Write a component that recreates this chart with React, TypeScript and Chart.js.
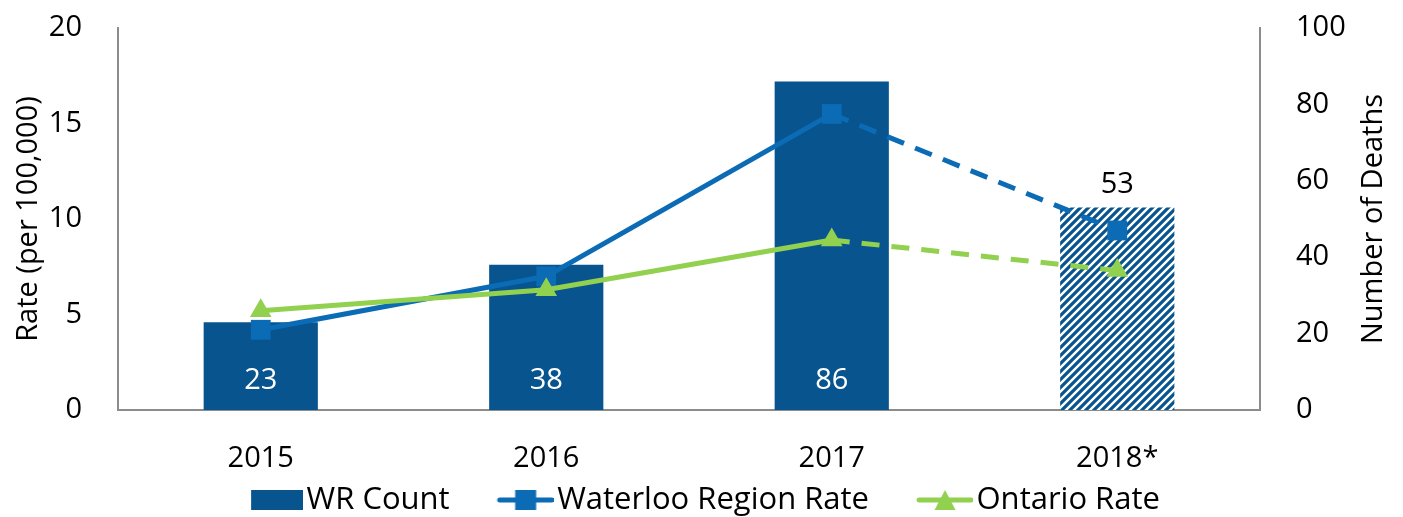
import React, { useEffect, useRef } from "react";
import { Chart, registerables } from "chart.js";

Chart.register(...registerables);

const categories = ["2015", "2016", "2017", "2018*"];
const wrCount = [23, 38, 86, 53];
const waterlooRate = [4.2, 7.0, 15.5, 9.4];
const ontarioRate = [5.2, 6.3, 8.9, 7.3];
const provisional = [false, false, false, true];
const legendLabels = ["WR Count", "Waterloo Region Rate", "Ontario Rate"];
const leftTitle = "Rate (per 100,000)";
const rightTitle = "Number of Deaths";

const BAR = "#08548F";
const WR_LINE = "#0B6BB5";
const ON_LINE = "#92D050";
const AXIS = "#8C8C8C";
const FONT = '"Open Sans", sans-serif';
const FS = 29;
const LFS = 31;

const LEG_W = 86;
const SHIFT = 12;
const LEG_H = 30;

function legendIcon(kind: string, color: string, symW: number) {
  const c = document.createElement("canvas");
  c.width = LEG_W + 2 * SHIFT;
  c.height = LEG_H;
  const g = c.getContext("2d")!;
  const right = LEG_W + 2 * SHIFT;
  const left = right - symW;
  const cy = LEG_H / 2;
  if (kind === "box") {
    g.fillStyle = color;
    g.fillRect(left, cy - 10, symW, 20);
  } else {
    g.strokeStyle = color;
    g.lineWidth = 5;
    g.lineCap = "round";
    g.beginPath();
    g.moveTo(left + 2, cy);
    g.lineTo(right - 2, cy);
    g.stroke();
    g.fillStyle = color;
    const mx = (left + right) / 2;
    if (kind === "square") {
      g.fillRect(mx - 10.5, cy - 10, 21, 20);
    } else {
      g.beginPath();
      g.moveTo(mx, cy - 10);
      g.lineTo(mx + 10.5, cy + 10);
      g.lineTo(mx - 10.5, cy + 10);
      g.closePath();
      g.fill();
    }
  }
  return c;
}

function makeHatch(ctx: CanvasRenderingContext2D) {
  const c = document.createElement("canvas");
  c.width = 8;
  c.height = 8;
  const g = c.getContext("2d")!;
  g.fillStyle = "#ffffff";
  g.fillRect(0, 0, 8, 8);
  g.strokeStyle = BAR;
  g.lineWidth = 3.2;
  g.beginPath();
  g.moveTo(-2, 10);
  g.lineTo(10, -2);
  g.moveTo(-6, 6);
  g.lineTo(6, -6);
  g.moveTo(2, 14);
  g.lineTo(14, 2);
  g.stroke();
  return ctx.createPattern(c, "repeat");
}

const barLabelPlugin = {
  id: "barLabels",
  afterDatasetsDraw(chart: any) {
    const meta = chart.getDatasetMeta(0);
    const ctx = chart.ctx;
    ctx.save();
    ctx.font = `${FS}px ${FONT}`;
    ctx.textAlign = "center";
    ctx.textBaseline = "middle";
    meta.data.forEach((el: any, i: number) => {
      const v = wrCount[i];
      if (provisional[i]) {
        ctx.fillStyle = "#000000";
        ctx.fillText(String(v), el.x, el.y - 23);
      } else {
        ctx.fillStyle = "#ffffff";
        ctx.fillText(String(v), el.x, el.base - 29);
      }
    });
    ctx.restore();
  },
};

const rightTitlePlugin = {
  id: "rightTitle",
  afterDraw(chart: any) {
    const s = chart.scales.y1;
    const ctx = chart.ctx;
    ctx.save();
    ctx.font = `${FS}px ${FONT}`;
    ctx.fillStyle = "#000000";
    ctx.textAlign = "center";
    ctx.textBaseline = "middle";
    ctx.translate(s.left + 114, (s.top + s.bottom) / 2);
    ctx.rotate(-Math.PI / 2);
    ctx.fillText(rightTitle, 0, 0);
    ctx.restore();
  },
};

export default function App() {
  const ref = useRef<HTMLCanvasElement>(null);

  useEffect(() => {
    const canvas = ref.current!;
    const ctx = canvas.getContext("2d")!;
    const hatch = makeHatch(ctx);
    const icons = [
      legendIcon("box", BAR, 52),
      legendIcon("square", WR_LINE, 56),
      legendIcon("triangle", ON_LINE, 56),
    ];
    const tickFont = { family: FONT, size: FS };
    const dash = (c: any) => (provisional[c.p1DataIndex] ? [18, 12] : undefined);

    const chart = new Chart(canvas, {
      type: "bar",
      data: {
        labels: categories,
        datasets: [
          {
            type: "bar",
            label: legendLabels[0],
            data: wrCount,
            yAxisID: "y1",
            backgroundColor: provisional.map((p) => (p ? hatch : BAR)) as any,
            borderWidth: 0,
            barPercentage: 0.4,
            categoryPercentage: 1,
            order: 3,
          },
          {
            type: "line",
            label: legendLabels[1],
            data: waterlooRate,
            yAxisID: "y",
            borderColor: WR_LINE,
            backgroundColor: WR_LINE,
            borderWidth: 5,
            pointStyle: "rect",
            pointRadius: 14,
            pointBorderWidth: 0,
            segment: { borderDash: dash },
            order: 2,
          },
          {
            type: "line",
            label: legendLabels[2],
            data: ontarioRate,
            yAxisID: "y",
            borderColor: ON_LINE,
            backgroundColor: ON_LINE,
            borderWidth: 5,
            pointStyle: "triangle",
            pointRadius: 12.5,
            pointBorderWidth: 0,
            segment: { borderDash: dash },
            order: 1,
          },
        ] as any,
      },
      options: {
        responsive: true,
        maintainAspectRatio: false,
        animation: false,
        layout: { padding: { top: 28, bottom: -8.5, left: 0, right: 38 } },
        plugins: {
          tooltip: { enabled: false },
          legend: {
            position: "bottom",
            labels: {
              usePointStyle: true,
              pointStyleWidth: LEG_W,
              padding: 6,
              color: "#000000",
              font: { family: FONT, size: LFS },
              generateLabels: () =>
                legendLabels.map((t, i) => ({
                  text: t,
                  pointStyle: icons[i],
                  fillStyle: "transparent",
                  strokeStyle: "transparent",
                  lineWidth: 0,
                  hidden: false,
                  datasetIndex: i,
                  fontColor: "#000000",
                })) as any,
            },
          },
        },
        scales: {
          x: {
            grid: { display: false, drawTicks: false },
            border: { display: true, color: AXIS, width: 2 },
            ticks: { color: "#000000", font: tickFont, padding: 31 },
            afterFit: (s: any) => {
              s.height = 68.5;
            },
          },
          y: {
            position: "left",
            min: 0,
            max: 20,
            grid: { display: false, drawTicks: true, tickLength: 34 },
            border: { display: true, color: AXIS, width: 2 },
            ticks: { stepSize: 5, color: "#000000", font: tickFont, padding: 2 },
            title: {
              display: true,
              text: leftTitle,
              color: "#000000",
              font: tickFont,
              padding: { top: 11, bottom: 0 },
            },
            afterFit: (s: any) => {
              s.width = 118;
            },
          },
          y1: {
            position: "right",
            min: 0,
            max: 100,
            grid: { display: false, drawTicks: true, tickLength: 34 },
            border: { display: true, color: AXIS, width: 2 },
            ticks: { stepSize: 20, color: "#000000", font: tickFont, padding: 2 },
            afterFit: (s: any) => {
              s.width = 105;
            },
          },
        },
      } as any,
      plugins: [barLabelPlugin, rightTitlePlugin],
    });
    return () => chart.destroy();
  }, []);

  return (
    <div style={{ position: "absolute", left: 0, top: 0, width: 1403, height: 517 }}>
      <canvas ref={ref} />
    </div>
  );
}
